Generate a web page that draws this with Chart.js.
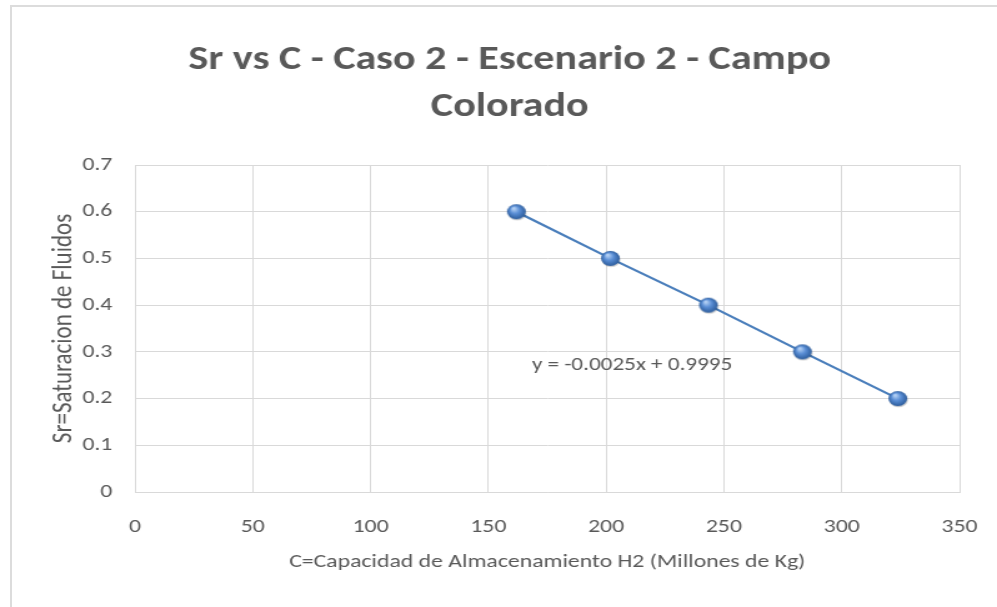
<!DOCTYPE html>
<html>
<head>
<meta charset="utf-8">
<script src="https://cdn.jsdelivr.net/npm/chart.js@4/dist/chart.umd.min.js"></script>
<style>
  html, body { margin: 0; padding: 0; background: #fff; overflow: hidden; }
  #wrap { position: relative; width: 997px; height: 607px; overflow: hidden; }
  #stretch { position: absolute; left: 0; top: 0; width: 798px; height: 607px; transform: scaleX(1.2494); transform-origin: 0 0; }
  #frame { position: absolute; left: 10px; top: 5px; width: 1100px; height: 700px; border-left: 2px solid #dcdcdc; border-top: 2px solid #dcdcdc; pointer-events: none; }
  canvas { display: block; }
</style>
</head>
<body>
<div id="wrap">
  <div id="stretch"><canvas id="c" width="798" height="607"></canvas></div>
  <div id="frame"></div>
</div>
<script>
// ---- data ----
const capacidad = [161.9, 201.8, 243.4, 283.3, 323.8];
const saturacion = [0.6, 0.5, 0.4, 0.3, 0.2];
const xTickStep = 50;
const yTickStep = 0.1;
const titleLines = ['Sr vs C - Caso 2 - Escenario 2 - Campo', 'Colorado'];
const xAxisTitle = 'C=Capacidad de Almacenamiento H2 (Millones de Kg)';
const yAxisTitle = 'Sr=Saturacion de Fluidos';
const equationText = 'y = -0.0025x + 0.9995';
const equationAnchor = [168.5, 0.27];

const FONT = "Calibri, Carlito, 'Open Sans', sans-serif";
const TXT = '#595959';
const GRID = '#d9d9d9';

// sphere-like marker
function makeMarker(r) {
  const s = Math.ceil(r * 2 + 4);
  const cv = document.createElement('canvas');
  cv.width = s; cv.height = s;
  const g = cv.getContext('2d');
  const cx = s / 2, cy = s / 2;
  g.beginPath(); g.arc(cx + 0.6, cy + 1.2, r, 0, Math.PI * 2);
  g.fillStyle = 'rgba(0,0,0,0.18)'; g.fill();
  const grad = g.createRadialGradient(cx - r * 0.3, cy - r * 0.45, r * 0.1, cx, cy, r);
  grad.addColorStop(0, '#b3d0f4');
  grad.addColorStop(0.45, '#5b8fd6');
  grad.addColorStop(1, '#2c5c9c');
  g.beginPath(); g.arc(cx, cy, r, 0, Math.PI * 2);
  g.fillStyle = grad; g.fill();
  return cv;
}
const marker = makeMarker(7.5);

const points = capacidad.map((x, i) => ({ x: x, y: saturacion[i] }));

// chart title, centred on the chart frame (as in the reference)
const titlePlugin = {
  id: 'frameTitle',
  afterDraw(chart) {
    const { ctx } = chart;
    ctx.save();
    ctx.font = 'bold 33.7px ' + FONT;
    ctx.fillStyle = TXT;
    ctx.textAlign = 'center';
    ctx.textBaseline = 'middle';
    const cx = 408;
    titleLines.forEach((t, i) => ctx.fillText(t, cx, 61 + i * 47));
    ctx.restore();
  }
};

const equationPlugin = {
  id: 'equation',
  afterDatasetsDraw(chart) {
    const { ctx, scales } = chart;
    const px = scales.x.getPixelForValue(equationAnchor[0]);
    const py = scales.y.getPixelForValue(equationAnchor[1]);
    ctx.save();
    ctx.font = '18.5px ' + FONT;
    ctx.fillStyle = TXT;
    ctx.textAlign = 'left';
    ctx.textBaseline = 'middle';
    ctx.fillText(equationText, px, py);
    ctx.restore();
  }
};

new Chart(document.getElementById('c'), {
  type: 'scatter',
  data: {
    datasets: [{
      data: points,
      showLine: true,
      borderColor: '#4a7ebb',
      borderWidth: 2.2,
      pointStyle: marker,
      pointRadius: 7.5,
      pointHoverRadius: 7.5
    }]
  },
  options: {
    responsive: false,
    animation: false,
    devicePixelRatio: 1,
    layout: { padding: { top: 165, right: 30, left: 0, bottom: 0 } },
    plugins: {
      legend: { display: false },
      tooltip: { enabled: false },
      title: { display: false, text: titleLines }
    },
    scales: {
      x: {
        type: 'linear',
        min: 0, max: 350,
        ticks: { stepSize: xTickStep, color: TXT, font: { family: FONT, size: 19 }, padding: 24 },
        grid: { color: GRID, lineWidth: 1, drawTicks: false },
        border: { color: GRID },
        title: { display: true, text: xAxisTitle, color: TXT, font: { family: FONT, size: 19 }, padding: { top: 0, bottom: 33 } },
        afterFit(s) { s.height = 115; s.paddingRight = 0; s.paddingLeft = 0; }
      },
      y: {
        type: 'linear',
        min: 0, max: 0.7,
        ticks: { stepSize: yTickStep, color: TXT, font: { family: FONT, size: 19 }, padding: 18 },
        grid: { color: GRID, lineWidth: 1, drawTicks: false },
        border: { color: GRID },
        title: { display: true, text: yAxisTitle, color: TXT, font: { family: FONT, size: 23 }, padding: { top: 37, bottom: 0 } },
        afterFit(s) { s.width = 108; s.paddingTop = 0; s.paddingBottom = 0; }
      }
    }
  },
  plugins: [titlePlugin, equationPlugin]
});
</script>
</body>
</html>
